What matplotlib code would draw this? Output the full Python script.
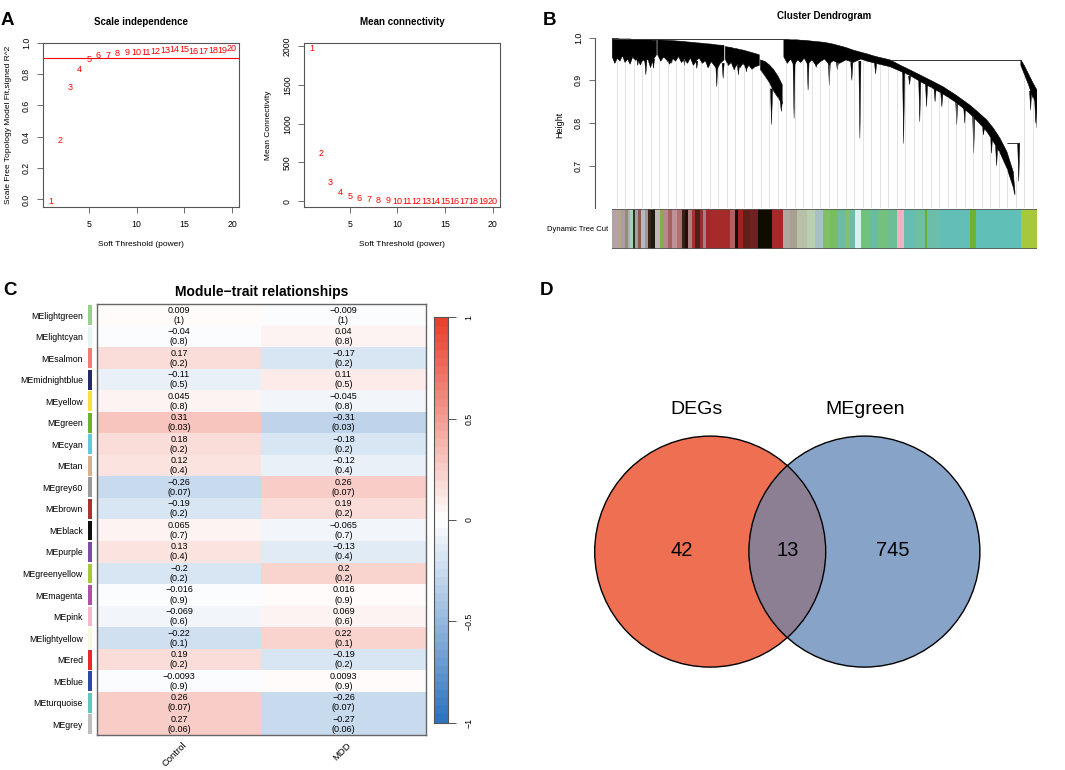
import numpy as np
import matplotlib
matplotlib.use("Agg")
import matplotlib.pyplot as plt
from matplotlib.colors import LinearSegmentedColormap
from matplotlib.patches import Circle, Polygon

plt.rcParams['font.family'] = ['Liberation Sans', 'DejaVu Sans']

# ---------------- data ----------------
powers = list(range(1, 21))
sft_signed_r2 = [-0.01, 0.374, 0.713, 0.83, 0.89, 0.917, 0.92, 0.928, 0.936, 0.94,
                 0.94, 0.947, 0.949, 0.955, 0.957, 0.945, 0.943, 0.949, 0.951, 0.96]
mean_connectivity = [1966, 612, 246, 112, 60, 30, 17, 9, 5, 3,
                     2, 1.4, 1, 0.7, 0.5, 0.4, 0.3, 0.2, 0.15, 0.1]
r2_cutoff = 0.9

# dendrogram (leaf position 0..1000, height)
nan = np.nan
dend_u = [0, 6, 12, 18, 24, 30, 36, 42, 48, 54, 60, 66, 72, 78, 84, 90, 96, 104, nan,
          107, 114, 121, 128, 135, 142, 149, 156, 163, 170, 177, 184, 191, 198, 205, 212, 219, 226, 233, 240, 247, 254, 263, nan,
          266, 273, 280, 287, 294, 301, 308, 315, 322, 329, 336, 346, nan,
          349, 360, 370, 380, 390, 400, nan,
          404, 412, 420, 428, 436, 444, 452, 460, 470, 480, 490, 500, 510, 520, 535, 550, 567, 585, 600, 620,
          654, 677, 700, 724, 750, 779, 810, 842, 862, 882, 898, 913, 929, 944, 948, nan,
          962, 970, 980, 990, 1000]
dend_top = [0.998, 0.998, 0.998, 0.997, 0.997, 0.997, 0.997, 0.997, 0.996, 0.996, 0.996, 0.996, 0.995, 0.995, 0.995, 0.995, 0.994, 0.994, nan,
            0.995, 0.9946, 0.9942, 0.9938, 0.9934, 0.993, 0.9925, 0.992, 0.9915, 0.991, 0.990, 0.9895, 0.989, 0.988, 0.9875, 0.987, 0.986, 0.9855, 0.985, 0.984, 0.983, 0.9825, 0.982, nan,
            0.979, 0.978, 0.977, 0.975, 0.974, 0.972, 0.971, 0.969, 0.967, 0.965, 0.963, 0.960, nan,
            0.948, 0.944, 0.936, 0.925, 0.910, 0.890, nan,
            0.996, 0.996, 0.995, 0.995, 0.995, 0.994, 0.994, 0.993, 0.992, 0.991, 0.990, 0.989, 0.987, 0.985, 0.981, 0.977, 0.971, 0.966, 0.962, 0.956,
            0.948, 0.936, 0.925, 0.913, 0.900, 0.885, 0.865, 0.842, 0.825, 0.807, 0.787, 0.764, 0.733, 0.686, 0.639, nan,
            0.948, 0.935, 0.915, 0.895, 0.877]
dend_bot = [0.955, 0.940, 0.952, 0.945, 0.958, 0.942, 0.950, 0.938, 0.955, 0.947, 0.952, 0.936, 0.948, 0.944, 0.950, 0.930, 0.948, 0.960, nan,
            0.960, 0.945, 0.955, 0.948, 0.938, 0.952, 0.945, 0.956, 0.942, 0.950, 0.940, 0.953, 0.935, 0.947, 0.952, 0.940, 0.946, 0.930, 0.944, 0.935, 0.926, 0.940, 0.948, nan,
            0.950, 0.935, 0.942, 0.925, 0.938, 0.930, 0.940, 0.928, 0.935, 0.926, 0.932, 0.935, nan,
            0.925, 0.910, 0.895, 0.875, 0.860, 0.845, nan,
            0.955, 0.940, 0.950, 0.935, 0.948, 0.942, 0.952, 0.938, 0.948, 0.935, 0.944, 0.950, 0.938, 0.946, 0.940, 0.948, 0.942, 0.950, 0.945, 0.940,
            0.932, 0.922, 0.912, 0.898, 0.884, 0.868, 0.848, 0.822, 0.802, 0.780, 0.755, 0.730, 0.695, 0.650, 0.632, nan,
            0.935, 0.915, 0.890, 0.860, 0.845]
spike_u = [60, 79, 97, 140, 170, 199, 225, 246, 261, 297, 316, 375, 398,
           428, 461, 480, 511, 530, 564, 583, 620, 686, 700, 724, 740, 760, 776,
           811, 830, 851, 874, 893, 905, 957, 985, 997, 1000]
spike_top = [0.950, 0.945, 0.950, 0.955, 0.952, 0.945, 0.945, 0.940, 0.940, 0.935, 0.935, 0.880, 0.850,
             0.945, 0.948, 0.945, 0.945, 0.942, 0.942, 0.945, 0.940, 0.920, 0.910, 0.900, 0.890, 0.880, 0.870,
             0.850, 0.835, 0.815, 0.790, 0.770, 0.745, 0.753, 0.875, 0.853, 0.850]
spike_tip = [0.935, 0.913, 0.928, 0.940, 0.935, 0.928, 0.930, 0.885, 0.905, 0.913, 0.920, 0.796, 0.827,
             0.811, 0.877, 0.930, 0.889, 0.925, 0.900, 0.764, 0.915, 0.752, 0.890, 0.803, 0.838, 0.850, 0.838,
             0.796, 0.800, 0.730, 0.772, 0.729, 0.700, 0.663, 0.830, 0.800, 0.788]
merge_u0 = [2, 654, 930]
merge_u1 = [404, 962, 957]
merge_h = [0.998, 0.948, 0.753]

cut_edges = [0, 11, 20, 30, 37, 42, 49, 53, 61, 68, 77, 84, 91, 101, 112, 119, 131, 140, 152, 164,
             171, 178, 187, 195, 206, 213, 220, 230, 277, 289, 296, 307, 324, 343, 376, 402, 418, 435, 458, 477,
             496, 513, 532, 548, 560, 572, 586, 607, 626, 649, 670, 687, 713, 736, 741, 771, 842, 856, 962, 1000]
cut_colors = ['#B3A3A8', '#B8A48C', '#A8A0A0', '#9A8878', '#B0B0B0', '#A8D0B8', '#303020', '#A0A0A8',
              '#8B5A4A', '#B8B8C0', '#9A9A9A', '#3A2418', '#201810', '#C0B8B8', '#8AAA50', '#B88890',
              '#A86060', '#C09098', '#B07070', '#382018', '#201008', '#B08080', '#A83030', '#502018',
              '#903030', '#A08080', '#A02828', '#A52A2A', '#B06060', '#101008', '#A02020', '#602018',
              '#702020', '#100C00', '#A82828', '#B0A8A0', '#A8A090', '#B8C0A8', '#B8D0B0', '#A8C0C8',
              '#80C060', '#78BC64', '#6CBCA0', '#80C070', '#6CBCA8', '#D8F0F0', '#70C080', '#68BCA0',
              '#74C07C', '#6CBE94', '#F4B0C0', '#66BEB0', '#6EBEA0', '#6AB030', '#6CBEA8', '#62BEB6',
              '#72B030', '#60C0B8', '#A8C83C']

modules = ['MElightgreen', 'MElightcyan', 'MEsalmon', 'MEmidnightblue', 'MEyellow', 'MEgreen',
           'MEcyan', 'MEtan', 'MEgrey60', 'MEbrown', 'MEblack', 'MEpurple', 'MEgreenyellow',
           'MEmagenta', 'MEpink', 'MElightyellow', 'MEred', 'MEblue', 'MEturquoise', 'MEgrey']
module_colors = ['#96D08C', '#E2F4F4', '#F07C74', '#262A6A', '#F2E23A', '#6CB02E', '#62C8DC',
                 '#D8B08C', '#9A9A9A', '#A83232', '#101010', '#7E4AA8', '#A8C83C', '#B050A8',
                 '#F4B8C8', '#FAF8DC', '#E82828', '#2A4AA8', '#5EC8C0', '#BEBEBE']
traits = ['Control', 'MDD']
cor_control = [0.009, -0.04, 0.17, -0.11, 0.045, 0.31, 0.18, 0.12, -0.26, -0.19,
               0.065, 0.13, -0.2, -0.016, -0.069, -0.22, 0.19, -0.0093, 0.26, 0.27]
cor_mdd = [-0.009, 0.04, -0.17, 0.11, -0.045, -0.31, -0.18, -0.12, 0.26, 0.19,
           -0.065, -0.13, 0.2, 0.016, 0.069, 0.22, -0.19, 0.0093, -0.26, -0.27]
p_control = [1, 0.8, 0.2, 0.5, 0.8, 0.03, 0.2, 0.4, 0.07, 0.2,
             0.7, 0.4, 0.2, 0.9, 0.6, 0.1, 0.2, 0.9, 0.07, 0.06]
p_mdd = [1, 0.8, 0.2, 0.5, 0.8, 0.03, 0.2, 0.4, 0.07, 0.2,
         0.7, 0.4, 0.2, 0.9, 0.6, 0.1, 0.2, 0.9, 0.07, 0.06]

venn_sets = ['DEGs', 'MEgreen']
venn_counts = [42, 13, 745]   # DEGs only, both, MEgreen only

# ---------------- figure ----------------
W, H = 1065, 770
fig = plt.figure(figsize=(W / 100, H / 100), dpi=100, facecolor='white')


def ax_px(x0, y0, x1, y1):
    return fig.add_axes([x0 / W, 1 - y1 / H, (x1 - x0) / W, (y1 - y0) / H])


def r_style(ax):
    for s in ax.spines.values():
        s.set_color('#555555')
        s.set_linewidth(0.8)
    ax.tick_params(direction='out', length=4, width=0.6, colors='#555555',
                   labelcolor='black', labelsize=6.3)
    ax.tick_params(axis='x', pad=5.5)
    ax.tick_params(axis='y', pad=5)
    for lab in ax.get_yticklabels():
        lab.set_rotation(90)
        lab.set_va('center')


def fmt(v):
    return ('%g' % v).replace('-', '\u2212')


# ----- Panel A1: scale independence -----
ax1 = ax_px(43.3, 42.7, 239.3, 207.3)
ax1.axhline(r2_cutoff, color='red', lw=0.8)
for p, v in zip(powers, sft_signed_r2):
    ax1.text(p, v, str(p), color='red', ha='center', va='center', fontsize=6.5)
ax1.set_xlim(0.24, 20.76)
ax1.set_ylim(-0.05, 1.0)
ax1.set_xticks([5, 10, 15, 20])
ax1.set_yticks([0, 0.2, 0.4, 0.6, 0.8, 1.0])
ax1.set_yticklabels(['0.0', '0.2', '0.4', '0.6', '0.8', '1.0'])
r_style(ax1)
ax1.set_title('Scale independence', fontsize=7, fontweight='bold', y=1 + 21 / 164.6, va='center', pad=0)
ax1.set_xlabel('Soft Threshold (power)', fontsize=6)
ax1.set_ylabel('Scale Free Topology Model Fit,signed R^2', fontsize=6)
ax1.xaxis.set_label_coords(0.5, -0.223)
ax1.yaxis.set_label_coords(-0.179, 0.5)
ax1.xaxis.label.set_va('center')
ax1.yaxis.label.set_va('center')

# ----- Panel A2: mean connectivity -----
ax2 = ax_px(304.3, 42.7, 500.0, 207.3)
for p, v in zip(powers, mean_connectivity):
    ax2.text(p, v, str(p), color='red', ha='center', va='center', fontsize=6.5)
ax2.set_xlim(0.24, 20.76)
ax2.set_ylim(-78, 2045)
ax2.set_xticks([5, 10, 15, 20])
ax2.set_yticks([0, 500, 1000, 1500, 2000])
r_style(ax2)
ax2.set_title('Mean connectivity', fontsize=7, fontweight='bold', y=1 + 21 / 164.6, va='center', pad=0)
ax2.set_xlabel('Soft Threshold (power)', fontsize=6)
ax2.set_ylabel('Mean Connectivity', fontsize=6)
ax2.xaxis.set_label_coords(0.5, -0.223)
ax2.yaxis.set_label_coords(-0.184, 0.5)
ax2.xaxis.label.set_va('center')
ax2.yaxis.label.set_va('center')

# ----- Panel B: dendrogram -----
axB = ax_px(595.3, 37.7, 1037.0, 208.4)
axB.set_xlim(-40, 1000)
axB.set_ylim(0.60, 1.0)
u = np.array(dend_u, float)
top = np.array(dend_top, float)
bot = np.array(dend_bot, float)
valid = ~np.isnan(u)
gu = np.arange(10, 1000, 20)
gb = np.interp(gu, u[valid], bot[valid])
axB.vlines(gu, 0.60, gb, colors='#bdbdbd', linestyles=(0, (1.2, 1.2)), lw=0.6)
axB.fill_between(u, bot, top, facecolor='black', edgecolor='black', lw=0.4)
for su, st, sp in zip(spike_u, spike_top, spike_tip):
    axB.add_patch(Polygon([(su - 2.5, st), (su + 2.5, st), (su, sp)], closed=True,
                          facecolor='black', edgecolor='black', lw=0.3))
axB.hlines(merge_h, merge_u0, merge_u1, colors='#333333', lw=0.7)
for s in ['top', 'right', 'bottom']:
    axB.spines[s].set_visible(False)
axB.spines['left'].set_color('#555555')
axB.spines['left'].set_linewidth(0.8)
axB.set_xticks([])
axB.set_yticks([0.7, 0.8, 0.9, 1.0])
axB.tick_params(axis='y', direction='out', length=4, width=0.6, colors='#555555',
                labelcolor='black', labelsize=6.3, pad=5)
for lab in axB.get_yticklabels():
    lab.set_rotation(90)
    lab.set_va('center')
axB.set_ylabel('Height', fontsize=6.5)
axB.yaxis.set_label_coords(-0.08, 0.489)
axB.yaxis.label.set_va('center')
axB.set_title('Cluster Dendrogram', fontsize=7, fontweight='bold', x=0.519, y=1.127, va='center', pad=0)

axS = ax_px(612.3, 209.3, 1037.0, 249.3)
edges = np.array(cut_edges, float)
axS.bar(edges[:-1], 1, width=np.diff(edges), align='edge', color=cut_colors, lw=0)
axS.set_xlim(0, 1000)
axS.set_ylim(0, 1)
axS.axis('off')
axS.axhline(0.0, color='#555555', lw=1.2)
axS.axhline(1.0, color='#555555', lw=1.2)
axS.text(-0.01, 0.5, 'Dynamic Tree Cut', transform=axS.transAxes, ha='right', va='center', fontsize=5.5)

# ----- Panel C: module-trait heatmap -----
cmap = LinearSegmentedColormap.from_list('bwr_wgcna', [(0.0, '#2E75C0'), (0.5, '#FFFFFF'), (1.0, '#E8412C')], N=50)
axH = ax_px(96.7, 304.3, 425.7, 735.0)
mat = np.column_stack([cor_control, cor_mdd])
axH.imshow(mat, cmap=cmap, vmin=-1, vmax=1, aspect='auto', extent=(0, 2, 20, 0), interpolation='nearest')
for i in range(len(modules)):
    axH.text(0.5, i + 0.5, fmt(cor_control[i]) + '\n(' + fmt(p_control[i]) + ')',
             ha='center', va='center', fontsize=6.5, linespacing=1.15)
    axH.text(1.5, i + 0.5, fmt(cor_mdd[i]) + '\n(' + fmt(p_mdd[i]) + ')',
             ha='center', va='center', fontsize=6.5, linespacing=1.15)
axH.set_xlim(0, 2)
axH.set_ylim(20, 0)
axH.set_xticks([0.52, 1.52])
axH.set_xticklabels(traits, rotation=45, ha='right', rotation_mode='anchor', fontsize=6.8)
axH.set_yticks(np.arange(20) + 0.5)
axH.set_yticklabels(modules, fontsize=6.3)
axH.tick_params(axis='both', length=0)
axH.tick_params(axis='y', pad=10)
axH.tick_params(axis='x', pad=4)
for s in axH.spines.values():
    s.set_color('#666666')
    s.set_linewidth(1.0)
axH.set_title('Module\u2212trait relationships', fontsize=10, fontweight='bold', y=1 + 12.6 / 430.7, va='center', pad=0)

axM = ax_px(87.7, 304.3, 92.3, 735.0)
axM.bar(np.zeros(20), 0.92, bottom=np.arange(20) + 0.04, width=1, align='edge', color=module_colors, lw=0)
axM.set_xlim(0, 1)
axM.set_ylim(20, 0)
axM.axis('off')

axC = ax_px(434.0, 317.3, 447.7, 722.7)
grad = np.linspace(-1, 1, 256)[:, None]
axC.imshow(grad, cmap=cmap, vmin=-1, vmax=1, aspect='auto', extent=(0, 1, -1, 1), origin='lower')
axC.set_xlim(0, 1)
axC.set_ylim(-1, 1)
axC.set_xticks([])
axC.yaxis.tick_right()
axC.set_yticks([-1, -0.5, 0, 0.5, 1])
axC.set_yticklabels(['\u22121', '\u22120.5', '0', '0.5', '1'])
axC.tick_params(axis='y', direction='out', length=6, width=0.7, colors='#555555',
                labelcolor='black', labelsize=6.3, pad=6)
for lab in axC.get_yticklabels():
    lab.set_rotation(90)
    lab.set_va('center')
for s in axC.spines.values():
    s.set_color('#555555')
    s.set_linewidth(0.8)

# ----- Panel D: Venn diagram -----
axV = ax_px(540, 270, 1065, 770)
axV.set_xlim(540, 1065)
axV.set_ylim(770, 270)
axV.axis('off')
r = 115.5
ca = (710.2, 551.6)
cb = (864.4, 551.6)
circA = Circle(ca, r, facecolor='#EE6F52', edgecolor='none')
circB = Circle(cb, r, facecolor='#88A3C8', edgecolor='none')
axV.add_patch(circA)
axV.add_patch(circB)
clipA = Circle(ca, r, transform=axV.transData)
over = Circle(cb, r, facecolor='#8C7F93', edgecolor='none')
axV.add_patch(over)
over.set_clip_path(clipA)
axV.add_patch(Circle(ca, r, fill=False, edgecolor='black', lw=1.0))
axV.add_patch(Circle(cb, r, fill=False, edgecolor='black', lw=1.0))
axV.text(697, 409, venn_sets[0], ha='center', va='center', fontsize=14)
axV.text(865, 409, venn_sets[1], ha='center', va='center', fontsize=14)
axV.text(682, 551, str(venn_counts[0]), ha='center', va='center', fontsize=14.5)
axV.text(788, 551, str(venn_counts[1]), ha='center', va='center', fontsize=14.5)
axV.text(893, 551, str(venn_counts[2]), ha='center', va='center', fontsize=14.5)

# ----- panel letters -----
for letter, x, y in [('A', 1, 25), ('B', 543, 25), ('C', 3, 295), ('D', 540, 295)]:
    fig.text(x / W, 1 - y / H, letter, fontsize=13.5, fontweight='bold', ha='left', va='baseline')

fig.savefig('out.png', dpi=100, facecolor='white')
